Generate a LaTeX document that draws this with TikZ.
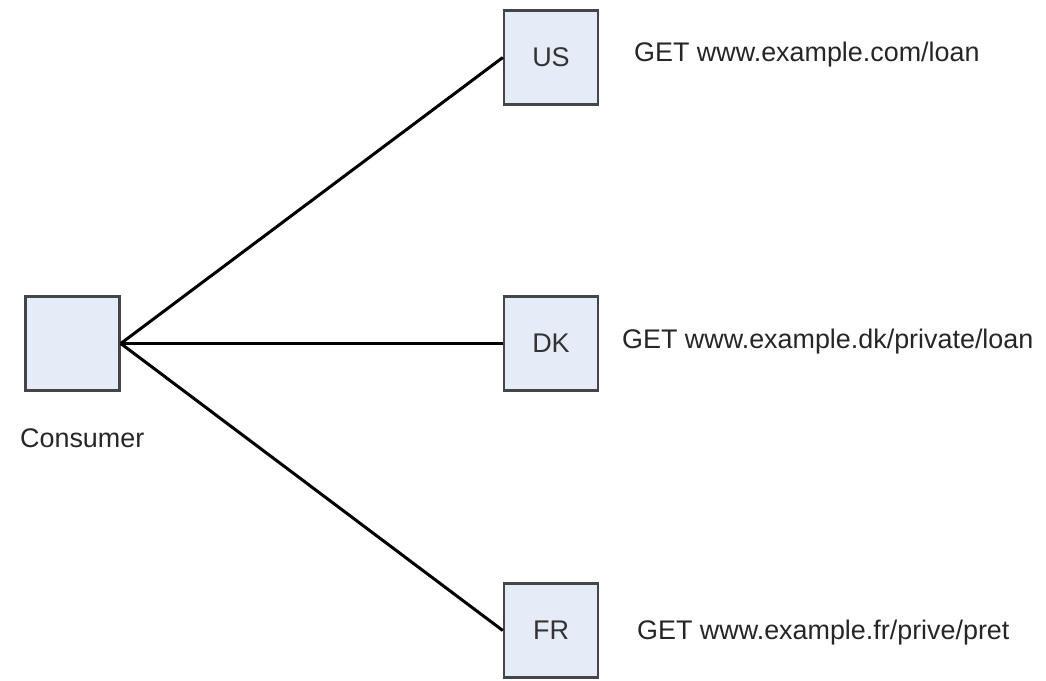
\documentclass[tikz,border=0pt]{standalone}
\usepackage{fontspec}
\setmainfont{Liberation Sans}
\definecolor{boxfill}{HTML}{E6ECF7}
\definecolor{boxline}{HTML}{454545}
\begin{document}
\begin{tikzpicture}[x=1pt,y=-1pt,
  sq/.style={draw=boxline,fill=boxfill,line width=2.5pt,minimum width=94pt,minimum height=94pt,inner sep=0pt,font=\fontsize{27}{30}\selectfont,text=black!80},
  lbl/.style={font=\fontsize{26.9}{30}\selectfont,text=black!85,inner sep=0pt},
  wire/.style={line width=3pt,black}]
\useasboundingbox (0,0) rectangle (1046,680);
\node[sq] (C) at (72.5,343.5) {};
\node[sq] (US) at (551,57.5) {US};
\node[sq] (DK) at (551,343.5) {DK};
\node[sq] (FR) at (551,630.5) {FR};
\node[lbl,anchor=west] (Cl) at (20,438) {Consumer};
\node[lbl,anchor=west] (USl) at (634,55) {GET www.example.com/loan};
\node[lbl,anchor=west] (DKl) at (622,342) {GET www.example.dk/private/loan};
\node[lbl,anchor=west] (FRl) at (637,633) {GET www.example.fr/prive/pret};
\draw[wire] (C.east) -- (US.west);
\draw[wire] (C.east) -- (DK.west);
\draw[wire] (C.east) -- (FR.west);
\end{tikzpicture}
\end{document}
